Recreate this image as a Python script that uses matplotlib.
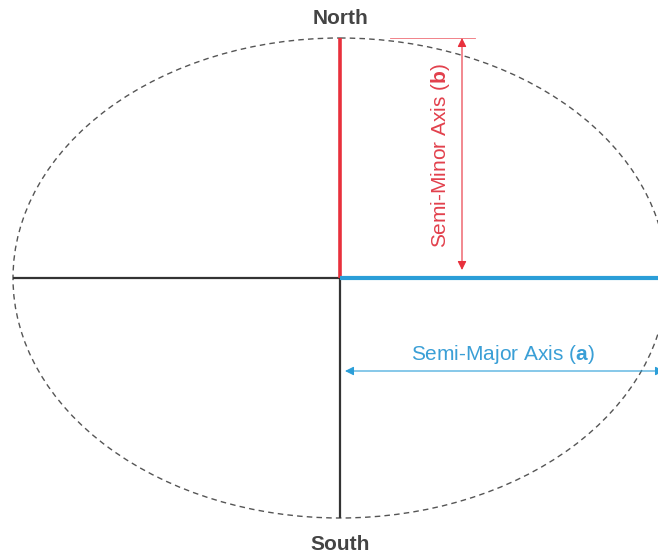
import matplotlib
matplotlib.use("Agg")
import matplotlib.pyplot as plt
from matplotlib.patches import Ellipse

plt.rcParams["mathtext.fontset"] = "custom"
plt.rcParams["mathtext.rm"] = "Liberation Sans"
plt.rcParams["mathtext.bf"] = "Liberation Sans:bold"

# Diagram values (pixel units of the image)
center = (340, 278)
semi_major = 327
semi_minor = 240
labels = ["North", "South"]
axis_labels = [r"Semi-Minor Axis ($\mathbf{b}$)", r"Semi-Major Axis ($\mathbf{a}$)"]

RED = "#e8303c"
BLUE = "#2b9ed8"
RED_T = "#e2404c"
BLUE_T = "#3a9fd6"
DARK = "#333333"

fig = plt.figure(figsize=(6.58, 5.59), dpi=100)
ax = fig.add_axes([0, 0, 1, 1])
ax.set_xlim(0, 658)
ax.set_ylim(559, 0)
ax.axis("off")
ax.set_aspect("auto")

cx, cy = center
a, b = semi_major, semi_minor

ell = Ellipse((cx, cy), 2 * a, 2 * b, fill=False, edgecolor="#555555",
              linewidth=1.0, linestyle=(0, (4, 3)))
ax.add_patch(ell)

# axes lines
ax.plot([cx - a, cx], [cy, cy], color=DARK, lw=1.6, solid_capstyle="butt")
ax.plot([cx, cx], [cy, cy + b], color=DARK, lw=1.6, solid_capstyle="butt")
ax.plot([cx, cx], [cy - b, cy], color=RED, lw=2.6, solid_capstyle="butt")
ax.plot([cx, 658], [cy, cy], color=BLUE, lw=3.0, solid_capstyle="butt")

# semi-minor indicator
ax.plot([390, 475], [cy - b, cy - b], color=RED, lw=0.6, alpha=0.7)
ax.annotate("", xy=(462, cy - b), xytext=(462, cy - 8),
            arrowprops=dict(arrowstyle="<|-|>", color=RED, lw=0.8,
                            mutation_scale=13, shrinkA=0, shrinkB=0))
ax.text(441, 155, axis_labels[0], rotation=90,
        ha="center", va="center", fontsize=15, color=RED_T,
        family="Liberation Sans")

# semi-major indicator
ax.annotate("", xy=(345, 371), xytext=(664, 371),
            arrowprops=dict(arrowstyle="<|-|>", color=BLUE, lw=0.8,
                            mutation_scale=13, shrinkA=0, shrinkB=0))
ax.text(503, 354, axis_labels[1], ha="center", va="center",
        fontsize=15, color=BLUE_T, family="Liberation Sans")

ax.text(cx, 18, labels[0], ha="center", va="center", fontsize=15,
        fontweight="bold", color="#444444", family="Liberation Sans")
ax.text(cx, 545, labels[1], ha="center", va="center", fontsize=15,
        fontweight="bold", color="#444444", family="Liberation Sans")

fig.savefig("out.png", dpi=100)
